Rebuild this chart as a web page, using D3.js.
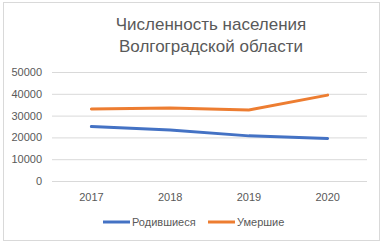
<!DOCTYPE html>
<html><head><meta charset="utf-8">
<script src="https://cdn.jsdelivr.net/npm/d3@7"></script>
<style>body{margin:0;background:#fff;} text{font-family:"Liberation Sans",Arial,sans-serif;}</style>
</head><body>
<svg id="c" width="384" height="245"></svg>
<script>
const years = ["2017","2018","2019","2020"];
const births = [25000, 23400, 20700, 19500];
const deaths = [33000, 33500, 32600, 39400];
const yTicks = [0,10000,20000,30000,40000,50000];
const seriesNames = ["Родившиеся","Умершие"];
const colors = ["#4472C4","#ED7D31"];
const titleLines = ["Численность населения","Волгоградской области"];

const svg = d3.select("#c");
svg.append("rect").attr("x",3.5).attr("y",2.5).attr("width",376).attr("height",238)
  .attr("fill","#fff").attr("stroke","#d9d9d9");

const x = d3.scaleBand().domain(years).range([52,367]);
const y = d3.scaleLinear().domain([0,50000]).range([181,72]);

svg.append("g").selectAll("line").data(yTicks).join("line")
  .attr("x1",52).attr("x2",367).attr("y1",d=>y(d)+0.5).attr("y2",d=>y(d)+0.5)
  .attr("stroke","#d9d9d9").attr("stroke-width",1);

const yAxis = svg.append("g").attr("transform","translate(52,0)")
  .call(d3.axisLeft(y).tickValues(yTicks).tickSize(0).tickPadding(10).tickFormat(d3.format("d")));
yAxis.select(".domain").remove();
yAxis.selectAll("text").attr("fill","#595959").style("font-size","11px");

const xAxis = svg.append("g").attr("transform","translate(0,181)")
  .call(d3.axisBottom(x).tickSize(0).tickPadding(12));
xAxis.select(".domain").remove();
xAxis.selectAll("text").attr("fill","#595959").style("font-size","11px");

const line = d3.line().x((d,i)=>x(years[i])+x.bandwidth()/2).y(d=>y(d));
[births,deaths].forEach((s,i)=>{
  svg.append("path").datum(s).attr("d",line).attr("fill","none")
    .attr("stroke",colors[i]).attr("stroke-width",3).attr("stroke-linecap","round");
});

svg.append("g").selectAll("text").data(titleLines).join("text")
  .attr("x",211).attr("y",(d,i)=>30+i*22).attr("text-anchor","middle")
  .attr("fill","#595959").style("font-size","17px").text(d=>d);

const legX = [103,208];
seriesNames.forEach((n,i)=>{
  svg.append("line").attr("x1",legX[i]).attr("x2",legX[i]+27).attr("y1",222).attr("y2",222)
    .attr("stroke",colors[i]).attr("stroke-width",3);
  svg.append("text").attr("x",legX[i]+29).attr("y",226).attr("fill","#595959")
    .style("font-size","11px").text(n);
});
</script>
</body></html>
